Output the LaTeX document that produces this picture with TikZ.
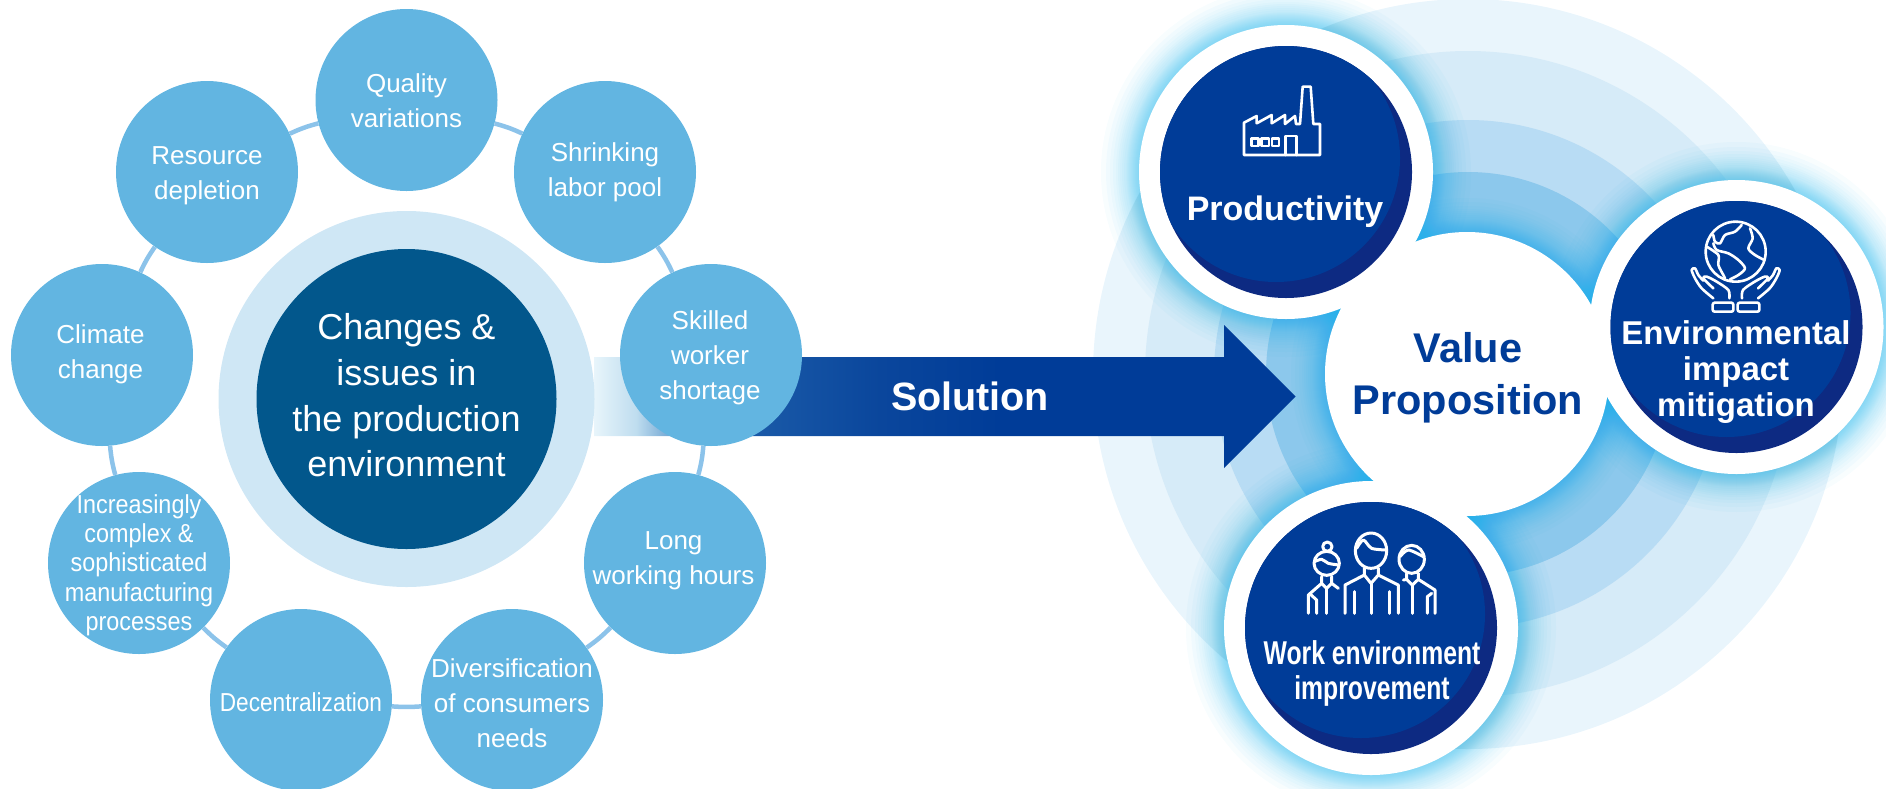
\documentclass[tikz,border=0pt]{standalone}
\usepackage{fontspec}
\setmainfont{Liberation Sans}
\newfontfamily\narrowfont[FakeStretch=.9]{Liberation Sans}
\newfontfamily\narrowerfont[FakeStretch=.87]{Liberation Sans}
\newfontfamily\workfont[FakeStretch=.75]{Liberation Sans}
\definecolor{smallblue}{HTML}{62B5E1}
\definecolor{linkblue}{HTML}{8CC3EA}
\definecolor{coreblue}{HTML}{02578C}
\definecolor{corering}{HTML}{CFE7F5}
\definecolor{deepblue}{HTML}{003C98}
\definecolor{duskblue}{HTML}{0D2A82}
\definecolor{glowblue}{HTML}{12B0EA}
\definecolor{ringa}{HTML}{E9F5FC}
\definecolor{ringb}{HTML}{D6EBF8}
\definecolor{ringc}{HTML}{B8DCF4}
\definecolor{ringd}{HTML}{8CC8EC}
\definecolor{fadea}{HTML}{E8F5FB}
\definecolor{fadeb}{HTML}{BFDDEF}
\definecolor{fadec}{HTML}{7FB0D8}
\definecolor{faded}{HTML}{3A75B8}
\definecolor{fadee}{HTML}{1A5AA8}
\definecolor{fadef}{HTML}{0A469C}
\pgfdeclarehorizontalshading{arrowfade}{100bp}{color(0bp)=(fadea); color(25bp)=(fadea); color(28bp)=(fadeb); color(30bp)=(fadec); color(33bp)=(faded); color(36.3bp)=(fadee); color(45.4bp)=(fadef); color(54bp)=(deepblue); color(100bp)=(deepblue)}
\tikzset{
  smallcircle/.style={circle, fill=smallblue, minimum size=182pt, inner sep=0pt},
  smalltext/.style={text=white, align=center, font=\fontsize{26}{35}\selectfont},
  densetext/.style={text=white, align=center, font=\fontsize{26}{29.3}\selectfont\narrowfont},
  link/.style={draw=linkblue, line width=4.5pt},
  whitedisc/.style={circle, fill=white, minimum size=294pt, inner sep=0pt},
  bluedisc/.style={circle, fill=duskblue, minimum size=252pt, inner sep=0pt},
  boldtext/.style={text=white, align=center, font=\fontsize{33}{36}\selectfont\bfseries},
  iconline/.style={draw=white, line width=2.6pt, line cap=round, line join=round},
  halo/.style={fill=glowblue, fill opacity=.03}
}
\begin{document}
\begin{tikzpicture}[x=1pt, y=-1pt]
  \useasboundingbox (0,0) rectangle (1886,788);
  \fill[ringa] (1468,374) circle (375);
  \fill[ringb] (1468,374) circle (323);
  \fill[ringc] (1468,374) circle (254);
  \fill[ringd] (1468,374) circle (202);
  \foreach \r in {143,144,...,155,157,159,161,163,165,168,172,176}
    \fill[halo] (1467,374) circle (\r);
  \foreach \px/\py in {1286/172, 1736.5/327, 1371/628}
    \foreach \r in {148,149,...,160,162,164,166,168,170,173,176,180,185}
      \fill[halo] (\px,\py) circle (\r);
  \shade[shading=arrowfade] (594,357) -- (1224,357) -- (1224,325) -- (1295.7,396.5) -- (1224,468) -- (1224,436) -- (594,436) -- cycle;
  \node[text=white, font=\fontsize{39.5}{39.5}\selectfont\bfseries] (solution) at (970,396) {Solution};
  \node[circle, fill=corering, minimum size=376pt, inner sep=0pt] (corering) at (406.5,399) {};
  \node[circle, fill=coreblue, minimum size=300pt, inner sep=0pt] (core) at (406.5,399) {};
  \node[text=white, align=center, font=\fontsize{36}{45.6}\selectfont] (coretext) at (406.5,395.5) {Changes \&\\issues in\\the production\\environment};
  \foreach \name/\px/\py/\dx/\dy/\txt in {
    quality/406.5/100/0/-1/{Quality\\variations},
    shrinking/605/172/0/0/{Shrinking\\labor pool},
    skilled/711/355/-1/-3/{Skilled\\worker\\shortage},
    long/675/563/-1.5/2/{Long\\working hours},
    diversification/512/700/0/-3/{Diversification\\of consumers\\needs},
    resource/207/172/0/-3.5/{Resource\\depletion},
    climate/102/355/-1.5/1/{Climate\\change}}
    \node[smallcircle, label={[smalltext, xshift=\dx pt, yshift=\dy pt]center:\txt}] (\name) at (\px,\py) {};
  \node[smallcircle, label={[densetext, yshift=-2pt]center:Increasingly\\complex \&\\sophisticated\\manufacturing\\processes}] (complex) at (139,563) {};
  \node[smallcircle, label={[smalltext, yshift=-2pt, font=\fontsize{26}{35}\selectfont\narrowerfont]center:Decentralization}] (decentral) at (301,700) {};
  \draw[link] (quality) to[bend left=5] (shrinking);
  \draw[link] (shrinking) to[bend left=5] (skilled);
  \draw[link] (skilled) to[bend left=5] (long);
  \draw[link] (long) to[bend left=5] (diversification);
  \draw[link] (diversification) to[bend left=4] (decentral);
  \draw[link] (decentral) to[bend left=5] (complex);
  \draw[link] (complex) to[bend left=5] (climate);
  \draw[link] (climate) to[bend left=5] (resource);
  \draw[link] (resource) to[bend left=5] (quality);
  \node[circle, fill=white, minimum size=284pt, inner sep=0pt] (value) at (1467,374) {};
  \node[text=deepblue, align=center, font=\fontsize{41.5}{52}\selectfont\bfseries] (valuetext) at (1468,378) {Value\\Proposition};
  \foreach \name/\px/\py in {prod/1286/172, envi/1736.5/327, work/1371/628}{
    \node[whitedisc] (\name) at (\px,\py) {};
    \node[bluedisc] (\name in) at (\px,\py) {};
    \begin{scope}
      \clip (\px,\py) circle (126);
      \fill[deepblue] (\px-10,\py-14) circle (124);
    \end{scope}
  }
  \node[boldtext, font=\fontsize{34}{35}\selectfont\bfseries] (prodtext) at (1285,212) {Productivity};
  \node[boldtext] (envitext) at (1736,372) {Environmental\\impact\\mitigation};
  \node[boldtext, font=\fontsize{33}{35}\selectfont\bfseries\workfont] (worktext) at (1372,673.5) {Work environment\\improvement};
  \begin{scope}[shift={(1220,60)}, scale=1/3]
    \draw[iconline] (72,285) -- (72,188) -- (110,168) -- (110,190) -- (155,165) -- (155,190) -- (195,165) -- (195,192) -- (225,168) -- (228,192) -- (240,192) -- (248,80) -- (272,80) -- (280,192) -- (300,192) -- (300,285) -- cycle;
    \draw[iconline] (197,285) -- (197,228) -- (230,228) -- (230,285);
    \draw[iconline] (95,235) rectangle (115,258);
    \draw[iconline] (125,235) rectangle (147,258);
    \draw[iconline] (156,235) rectangle (177,258);
  \end{scope}
  \begin{scope}[shift={(1670,210)}, scale=1/3]
    \draw[iconline] (197,125) circle (90);
    \draw[iconline] plot[smooth] coordinates {(130,75) (135,95) (150,100) (165,75) (195,65) (215,45)};
    \draw[iconline] plot[smooth] coordinates {(110,110) (145,135) (145,165) (160,195) (165,205)};
    \draw[iconline] plot[smooth] coordinates {(130,100) (140,120) (175,130) (205,150) (225,175) (205,195) (180,208)};
    \draw[iconline] plot[smooth] coordinates {(240,55) (248,85) (235,115) (255,135) (283,150)};
    \draw[iconline] plot[smooth] coordinates {(178,265) (175,240) (140,215) (110,200) (100,205) (130,235)};
    \draw[iconline] plot[smooth] coordinates {(130,265) (95,235) (75,205) (65,180) (75,175) (85,195) (100,212)};
    \draw[iconline] plot[smooth] coordinates {(216,265) (219,240) (254,215) (284,200) (294,205) (264,235)};
    \draw[iconline] plot[smooth] coordinates {(264,265) (299,235) (319,205) (329,180) (319,175) (309,195) (294,212)};
    \draw[iconline, rounded corners=2pt] (128,278) rectangle (190,305);
    \draw[iconline, rounded corners=2pt] (203,278) rectangle (268,305);
  \end{scope}
  \begin{scope}[shift={(1295,520)}, scale=1/3, iconline/.append style={line width=3pt}]
    \draw[iconline] (97,80) circle (14);
    \draw[iconline] (95,130) ellipse (38 and 36);
    \draw[iconline] plot[smooth] coordinates {(58,125) (80,118) (100,130) (132,135)};
    \draw[iconline] (80,170) -- (80,190) -- (95,205) -- (110,190) -- (110,170);
    \draw[iconline] (40,280) -- (40,225) -- (80,190);
    \draw[iconline] (110,190) -- (130,205);
    \draw[iconline] (65,280) -- (65,240) -- (45,222);
    \draw[iconline] (95,205) -- (95,280);
    \draw[iconline] (228,92) ellipse (47 and 53);
    \draw[iconline] plot[smooth] coordinates {(185,85) (205,60) (230,85) (275,90)};
    \draw[iconline] (208,145) -- (208,165) -- (228,190) -- (250,165) -- (250,145);
    \draw[iconline] (150,280) -- (150,195) -- (208,165);
    \draw[iconline] (250,165) -- (310,195) -- (310,280);
    \draw[iconline] (178,280) -- (178,215);
    \draw[iconline] (282,280) -- (282,215);
    \draw[iconline] (228,190) -- (228,280);
    \draw[iconline] (350,118) ellipse (38 and 42);
    \draw[iconline] plot[smooth] coordinates {(315,110) (340,90) (385,110)};
    \draw[iconline] (335,160) -- (335,178) -- (352,195) -- (370,178) -- (370,160);
    \draw[iconline] (325,180) -- (335,178);
    \draw[iconline] (352,195) -- (352,280);
    \draw[iconline] (370,178) -- (420,210) -- (420,280);
    \draw[iconline] (397,280) -- (397,230) -- (410,220);
  \end{scope}
\end{tikzpicture}
\end{document}
